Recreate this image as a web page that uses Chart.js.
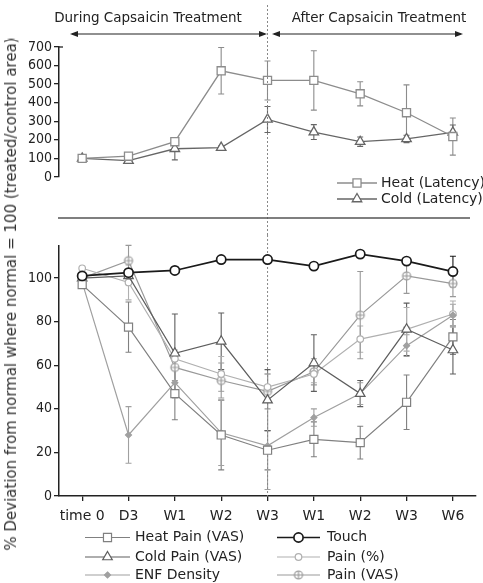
<!DOCTYPE html>
<html><head><meta charset="utf-8">
<script src="https://cdn.jsdelivr.net/npm/chart.js@4.4.0/dist/chart.umd.min.js"></script>
<style>
html,body{margin:0;padding:0;background:#fff;width:483px;height:583px;overflow:hidden;}
canvas{position:absolute;left:0;}
#c1{top:0;}
#c2{top:235px;}
#ytitle{position:absolute;left:11px;top:294px;transform:translate(-50%,-50%) rotate(-90deg);white-space:nowrap;font:15px 'DejaVu Sans';color:#333;}
</style></head><body>
<canvas id="c1" width="483" height="235"></canvas>
<canvas id="c2" width="483" height="348"></canvas>
<div id="ytitle">% Deviation from normal where normal = 100 (treated/control area)</div>
<script>
// ---------- data ----------
const categories = ['time 0','D3','W1','W2','W3','W1','W2','W3','W6'];
const topTicks = [0,100,200,300,400,500,600,700];
const bottomTicks = [0,20,40,60,80,100];

const heatLatency    = [100, 112, 190, 572, 520, 520, 448, 346, 218];
const heatLatencyErr = [0, 0, 15, 125, 105, 160, 65, 150, 100];
const coldLatency    = [100, 88, 152, 158, 310, 242, 190, 205, 240];
const coldLatencyErr = [0, 8, 60, 8, 70, 40, 25, 20, 40];

const heatPainVAS    = [97, 77.5, 47, 28, 21, 26, 24.5, 43, 73];
const heatPainVASErr = [0, 11.5, 12, 16, 9, 8, 7.5, 12.5, 8];
const coldPainVAS    = [100, 101, 65.5, 71, 44, 61, 47, 76.5, 67];
const coldPainVASErr = [0, 3, 18, 13, 14, 13, 6, 12, 11];
const enfDensity     = [98, 28, 52, 29, 23, 36, 47, 69, 83];
const enfDensityErr  = [0, 13, 7, 15, 20, 4, 5, 5, 5];
const touch          = [101, 102.5, 103.5, 108.5, 108.5, 105.5, 111, 107.8, 103];
const touchErr       = [0, 1, 1, 1, 1, 1, 1, 1, 7];
const painPct        = [104.5, 98, 63, 56, 50, 56, 72, 76.5, 83.5];
const painPctErr     = [0, 8, 4, 8, 6, 4, 6, 10, 6];
const painVAS        = [100, 108, 59, 53, 48, 57, 83, 101, 97.5];
const painVASErr     = [0, 7, 6, 8, 8, 6, 20, 8, 6];

// ---------- helpers ----------
Chart.defaults.font.family = "'DejaVu Sans'";
Chart.defaults.color = '#222';
Chart.defaults.animation = false;

function crossCircle(r, color){
  const c = document.createElement('canvas');
  const s = Math.ceil(2*r + 4);
  c.width = s; c.height = s;
  const g = c.getContext('2d');
  g.strokeStyle = color; g.lineWidth = 1.2; g.fillStyle = '#fff';
  g.beginPath(); g.arc(s/2, s/2, r, 0, Math.PI*2); g.fill(); g.stroke();
  g.beginPath(); g.moveTo(s/2-r, s/2); g.lineTo(s/2+r, s/2);
  g.moveTo(s/2, s/2-r); g.lineTo(s/2, s/2+r); g.stroke();
  return c;
}
const crossImg = crossCircle(4, '#999');

function drawMarker(ctx, style, x, y, r, stroke, fill, bw){
  ctx.save();
  ctx.strokeStyle = stroke; ctx.fillStyle = fill; ctx.lineWidth = bw;
  if (style instanceof HTMLCanvasElement){ ctx.drawImage(style, x - style.width/2, y - style.height/2); ctx.restore(); return; }
  ctx.beginPath();
  if (style === 'rect'){ const s = r*Math.SQRT1_2; ctx.rect(x-s, y-s, 2*s, 2*s); }
  else if (style === 'triangle'){ ctx.moveTo(x, y - r); ctx.lineTo(x + r*0.866, y + r*0.5); ctx.lineTo(x - r*0.866, y + r*0.5); ctx.closePath(); }
  else if (style === 'rectRot'){ ctx.moveTo(x, y-r); ctx.lineTo(x+r, y); ctx.lineTo(x, y+r); ctx.lineTo(x-r, y); ctx.closePath(); }
  else { ctx.arc(x, y, r, 0, Math.PI*2); }
  ctx.fill(); ctx.stroke();
  ctx.restore();
}

const errorBars = {
  id: 'errorBars',
  beforeDatasetsDraw(chart){
    const ctx = chart.ctx, xs = chart.scales.x, ys = chart.scales.y;
    chart.data.datasets.forEach(ds => {
      if (!ds.errors) return;
      ctx.save();
      ctx.strokeStyle = ds.borderColor; ctx.lineWidth = 1.1;
      ds.data.forEach((v, i) => {
        const e = ds.errors[i];
        if (!e) return;
        const x = xs.getPixelForValue(i);
        const yt = ys.getPixelForValue(v + e), yb = ys.getPixelForValue(v - e);
        ctx.beginPath();
        ctx.moveTo(x, yt); ctx.lineTo(x, yb);
        ctx.moveTo(x-3, yt); ctx.lineTo(x+3, yt);
        ctx.moveTo(x-3, yb); ctx.lineTo(x+3, yb);
        ctx.stroke();
      });
      ctx.restore();
    });
  }
};

function vline(chart, y0, y1){
  const ctx = chart.ctx;
  const x = chart.scales.x.getPixelForValue(4);
  ctx.save(); ctx.strokeStyle = '#888'; ctx.lineWidth = 1; ctx.setLineDash([2,2]);
  ctx.beginPath(); ctx.moveTo(x, y0); ctx.lineTo(x, y1); ctx.stroke(); ctx.restore();
}

function legendItems(chart, items){
  const ctx = chart.ctx;
  items.forEach(it => {
    const ds = chart.data.datasets[it.ds];
    ctx.save();
    ctx.strokeStyle = ds.borderColor; ctx.lineWidth = ds.borderWidth;
    ctx.beginPath(); ctx.moveTo(it.x0, it.y); ctx.lineTo(it.x1, it.y); ctx.stroke();
    ctx.restore();
    drawMarker(ctx, ds.pointStyle, (it.x0 + it.x1)/2, it.y, ds.pointRadius, ds.borderColor, ds.pointBackgroundColor, ds.pointBorderWidth || 1);
    ctx.save();
    ctx.fillStyle = '#222'; ctx.font = "14px 'DejaVu Sans'"; ctx.textBaseline = 'middle'; ctx.textAlign = 'left';
    ctx.fillText(ds.label, it.tx, it.y);
    ctx.restore();
  });
}

function arrowHead(ctx, x, y, dir){
  ctx.beginPath(); ctx.moveTo(x, y); ctx.lineTo(x - dir*8, y - 3); ctx.lineTo(x - dir*8, y + 3); ctx.closePath(); ctx.fill();
}

const topDecor = {
  id: 'topDecor',
  afterDraw(chart){
    const ctx = chart.ctx;
    vline(chart, 5, 235);
    ctx.save();
    ctx.fillStyle = '#222'; ctx.font = "13.5px 'DejaVu Sans'"; ctx.textAlign = 'center'; ctx.textBaseline = 'middle';
    ctx.fillText('During Capsaicin Treatment', 148, 18);
    ctx.fillText('After Capsaicin Treatment', 379, 18);
    ctx.strokeStyle = '#222'; ctx.lineWidth = 1.2;
    ctx.beginPath(); ctx.moveTo(72, 34); ctx.lineTo(265, 34); ctx.moveTo(274, 34); ctx.lineTo(461, 34); ctx.stroke();
    arrowHead(ctx, 70, 34, -1); arrowHead(ctx, 267, 34, 1);
    arrowHead(ctx, 272, 34, -1); arrowHead(ctx, 463, 34, 1);
    ctx.strokeStyle = '#222'; ctx.lineWidth = 1.3;
    const ya = chart.scales.y, xa = chart.chartArea.left;
    ctx.beginPath(); ctx.moveTo(xa, ya.getPixelForValue(700)); ctx.lineTo(xa + 4, ya.getPixelForValue(700)); ctx.stroke();
    ctx.strokeStyle = '#555'; ctx.lineWidth = 1.3;
    ctx.beginPath(); ctx.moveTo(58, 218); ctx.lineTo(470, 218); ctx.stroke();
    ctx.restore();
    legendItems(chart, [
      {ds:0, x0:337, x1:377, tx:381, y:183},
      {ds:1, x0:337, x1:377, tx:381, y:199}
    ]);
  }
};

const bottomDecor = {
  id: 'bottomDecor',
  beforeDatasetsDraw(chart){ vline(chart, 0, chart.chartArea.bottom); },
  afterDraw(chart){
    legendItems(chart, [
      {ds:1, x0:85, x1:130, tx:135, y:302.5},
      {ds:2, x0:85, x1:130, tx:135, y:322},
      {ds:3, x0:85, x1:130, tx:135, y:340},
      {ds:0, x0:277, x1:320, tx:327, y:302.5},
      {ds:4, x0:277, x1:320, tx:327, y:322},
      {ds:5, x0:277, x1:320, tx:327, y:340}
    ]);
  }
};

function yAxis(min, max, ticks, step){
  return {
    min: min, max: max,
    afterFit(s){ s.width = 59; },
    afterBuildTicks(s){ s.ticks = ticks.map(v => ({value: v})); },
    ticks: { font: {size: 14, family: "'DejaVu Sans Condensed', 'DejaVu Sans'"}, color: '#222', padding: 2, stepSize: step, autoSkip: false },
    grid: { display: true, drawOnChartArea: false, drawTicks: true, tickLength: 5, color: '#222', lineWidth: 1.3 },
    border: { display: true, color: '#222', width: 1.5 }
  };
}

function series(label, data, errors, color, style, radius, width, fill){
  return {
    label, data, errors,
    borderColor: color, borderWidth: width || 1.2,
    pointStyle: style, pointRadius: radius, pointHoverRadius: radius,
    pointBackgroundColor: fill || '#fff', pointBorderColor: color, pointBorderWidth: width || 1.2,
    tension: 0, fill: false
  };
}

new Chart(document.getElementById('c1'), {
  type: 'line',
  data: {
    labels: categories,
    datasets: [
      series('Heat (Latency)', heatLatency, heatLatencyErr, '#8c8c8c', 'rect', 5.7, 1.3),
      series('Cold (Latency)', coldLatency, coldLatencyErr, '#666', 'triangle', 5.5, 1.3)
    ]
  },
  options: {
    responsive: false,
    layout: { padding: { top: 47, bottom: 58, left: 0, right: 1.5 } },
    plugins: { legend: { display: false }, tooltip: { enabled: false } },
    scales: {
      x: { type: 'category', offset: true, display: false },
      y: yAxis(0, 700, topTicks, 100)
    }
  },
  plugins: [errorBars, topDecor]
});

new Chart(document.getElementById('c2'), {
  type: 'line',
  data: {
    labels: categories,
    datasets: [
      series('Touch', touch, touchErr, '#1a1a1a', 'circle', 4.6, 1.7),
      series('Heat Pain (VAS)', heatPainVAS, heatPainVASErr, '#808080', 'rect', 5.7, 1.2),
      series('Cold Pain (VAS)', coldPainVAS, coldPainVASErr, '#5e5e5e', 'triangle', 5.5, 1.2),
      series('ENF Density', enfDensity, enfDensityErr, '#a0a0a0', 'rectRot', 3, 1.2, '#a0a0a0'),
      series('Pain (%)', painPct, painPctErr, '#b0b0b0', 'circle', 3.3, 1.2),
      series('Pain (VAS)', painVAS, painVASErr, '#999', crossImg, 4, 1.2)
    ]
  },
  options: {
    responsive: false,
    layout: { padding: { top: 7, bottom: 0, left: 0, right: 1.5 } },
    plugins: { legend: { display: false }, tooltip: { enabled: false } },
    scales: {
      x: {
        type: 'category', offset: true,
        afterFit(s){ s.height = 87; },
        ticks: { font: {size: 14}, color: '#222', padding: 7, maxRotation: 0, autoSkip: false },
        grid: { display: true, drawOnChartArea: false, drawTicks: true, tickLength: 5, color: '#222', lineWidth: 1.3, offset: false },
        border: { display: true, color: '#222', width: 1.5 }
      },
      y: yAxis(0, 115, bottomTicks, 20)
    }
  },
  plugins: [errorBars, bottomDecor]
});
</script>
</body></html>
